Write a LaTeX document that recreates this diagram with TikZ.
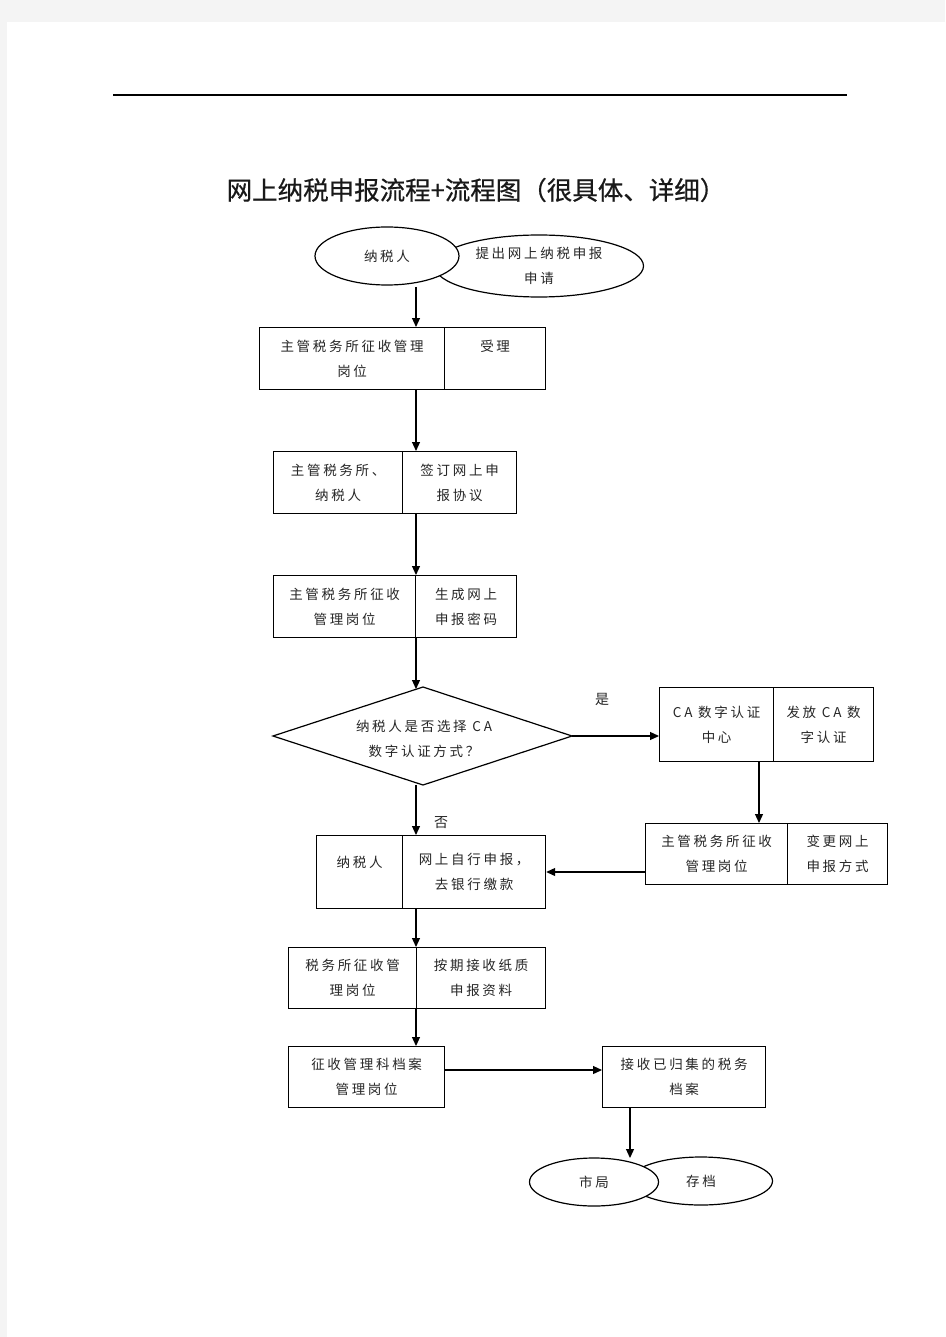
\documentclass[tikz,border=0pt]{standalone}
\usepackage{fontspec}
\newfontfamily\cjk[LetterSpace=20]{Noto Sans CJK SC}
\newfontfamily\cjkt{Noto Sans CJK SC}
\newfontfamily\cjkh[FakeBold=0.6]{Noto Sans CJK SC}
\usetikzlibrary{shapes.geometric,arrows.meta}
\definecolor{pagebg}{HTML}{F4F4F4}
\tikzset{
  boxtext/.style={font=\cjk\fontsize{13.5}{25}\selectfont, text=black!85, align=center},
  box/.style={boxtext, draw, line width=1.2pt, rectangle, inner sep=0pt, anchor=north west},
  oval/.style={boxtext, draw, line width=1.2pt, ellipse, inner sep=0pt},
  arr/.style={line width=1.2pt, -{Triangle[length=9pt,width=8pt]}},
  lbl/.style={font=\cjkt\fontsize{14}{16}\selectfont, text=black!85}
}
\begin{document}
\begin{tikzpicture}[x=1pt,y=-1pt]
\useasboundingbox (0,0) rectangle (945,1337);
\fill[pagebg] (0,0) rectangle (945,1337);
\fill[white] (7,22) rectangle (945,1337);
\coordinate (hl) at (113,95);
\coordinate (hr) at (847,95);
\draw[line width=1.2pt] (hl) -- (hr);
\node[font=\cjkh\fontsize{25.5}{28}\selectfont, text=black!90] (title) at (476,190) {网上纳税申报流程+流程图（很具体、详细）};

% top ellipses
\node[oval, minimum width=209pt, minimum height=62pt] (req) at (539,266) {提出网上纳税申报\\申请};
\node[oval, fill=white, minimum width=144pt, minimum height=58pt] (tp) at (387,256) {纳税人};

% boxes
\node[box, minimum width=185pt, minimum height=62pt] (b1l) at (259,327) {主管税务所征收管理\\岗位};
\node[box, minimum width=101pt, minimum height=62pt] (b1r) at (444,327) {受理\\\phantom{受理}};
\node[box, minimum width=129pt, minimum height=62pt] (b2l) at (273,451) {主管税务所、\\纳税人};
\node[box, minimum width=114pt, minimum height=62pt] (b2r) at (402,451) {签订网上申\\报协议};
\node[box, minimum width=142pt, minimum height=62pt] (b3l) at (273,575) {主管税务所征收\\管理岗位};
\node[box, minimum width=101pt, minimum height=62pt] (b3r) at (415,575) {生成网上\\申报密码};

% decision diamond
\coordinate (dN) at (423,687);
\coordinate (dE) at (572,736);
\coordinate (dS) at (423,785);
\coordinate (dW) at (273,736);
\draw[line width=1.2pt] (dN) -- (dE) -- (dS) -- (dW) -- cycle;
\node[boxtext] (dia) at (424,739) {纳税人是否选择 CA\\数字认证方式？};

\node[box, minimum width=114pt, minimum height=74pt] (cal) at (659,687) {CA 数字认证\\中心};
\node[box, minimum width=100pt, minimum height=74pt] (car) at (773,687) {发放 CA 数\\字认证};
\node[box, minimum width=142pt, minimum height=61pt] (chl) at (645,823) {主管税务所征收\\管理岗位};
\node[box, minimum width=100pt, minimum height=61pt] (chr) at (787,823) {变更网上\\申报方式};

\node[box, minimum width=86pt, minimum height=73pt] (nl) at (316,835) {纳税人\\[-6pt]\phantom{纳}};
\node[box, minimum width=143pt, minimum height=73pt] (nr) at (402,835) {网上自行申报，\\去银行缴款};
\node[box, minimum width=128pt, minimum height=61pt] (tl) at (288,947) {税务所征收管\\理岗位};
\node[box, minimum width=129pt, minimum height=61pt] (tr) at (416,947) {按期接收纸质\\申报资料};
\node[box, minimum width=156pt, minimum height=61pt] (zg) at (288,1046) {征收管理科档案\\管理岗位};
\node[box, minimum width=163pt, minimum height=61pt] (js) at (602,1046) {接收已归集的税务\\档案};

% bottom ellipses
\node[oval, minimum width=143pt, minimum height=48pt] (cd) at (701,1181) {存档};
\node[oval, fill=white, minimum width=129pt, minimum height=48pt] (sj) at (594,1182) {市局};

% labels
\node[lbl] (yes) at (602,699) {是};
\node[lbl] (no) at (441,823) {否};

% helper coordinates
\coordinate (a0) at (416,287);
\coordinate (cx) at (759,761);
\coordinate (cy) at (0,872);
\coordinate (cz) at (0,1070);
\coordinate (cw) at (630,1107);
\coordinate (cv) at (630,1158);
\coordinate (db) at (416,785);
\coordinate (dt) at (416,689);

% connectors
\draw[arr] (a0) -- (a0 |- b1l.north);
\draw[arr] (b1l.south -| a0) -- (a0 |- b2l.north);
\draw[arr] (b2r.south -| a0) -- (a0 |- b3l.north);
\draw[arr] (b3l.south -| a0) -- (dt);
\draw[arr] (dE) -- (cal.west |- dE);
\draw[arr] (cx) -- (cx |- chl.north);
\draw[arr] (chl.west |- cy) -- (nr.east |- cy);
\draw[arr] (db) -- (db |- nr.north);
\draw[arr] (nr.south -| a0) -- (a0 |- tr.north);
\draw[arr] (tr.south -| a0) -- (a0 |- zg.north);
\draw[arr] (zg.east |- cz) -- (js.west |- cz);
\draw[arr] (cw) -- (cv);
\end{tikzpicture}
\end{document}
